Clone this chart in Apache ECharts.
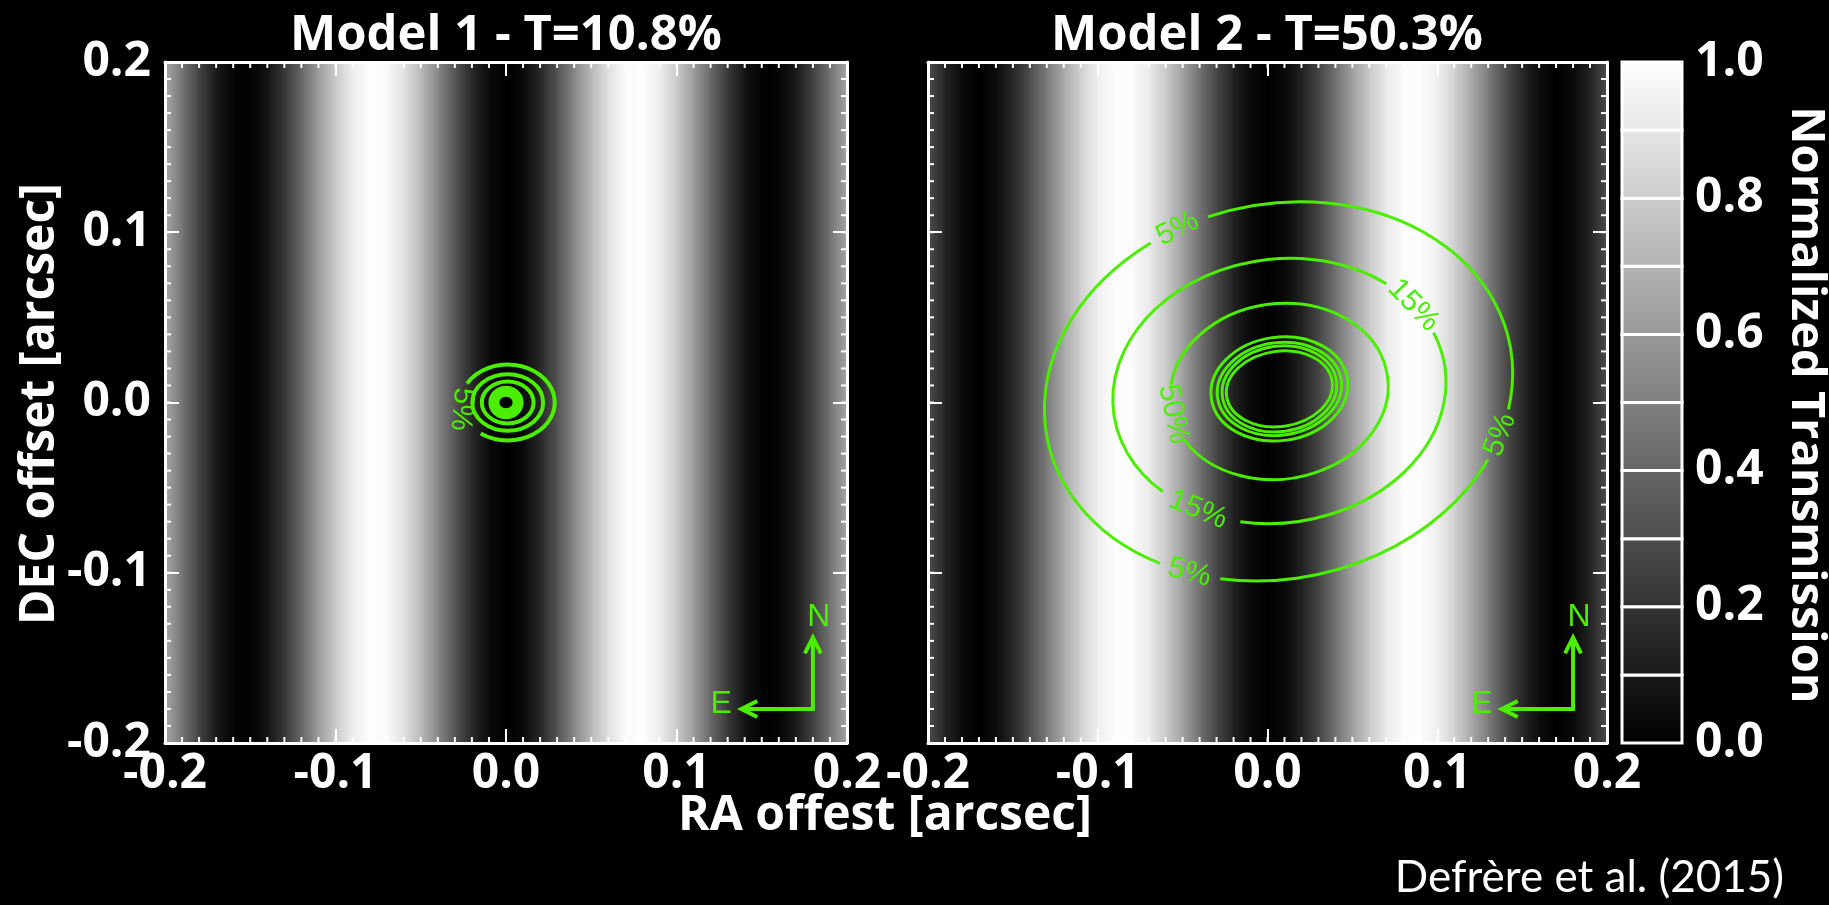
<!DOCTYPE html>
<html>
<head>
<meta charset="utf-8">
<title>Transmission maps</title>
<script src="https://cdn.jsdelivr.net/npm/echarts@6/dist/echarts.min.js"></script>
<style>
  html, body { margin: 0; padding: 0; background: #000; }
  #chart { width: 1829px; height: 905px; }
</style>
</head>
<body>
<div id="chart"></div>
<script>
// ---------- text ----------
const panelTitles = ['Model 1 - T=10.8%', 'Model 2 - T=50.3%'];
const xAxisTitle = 'RA offest [arcsec]';
const yAxisTitle = 'DEC offset [arcsec]';
const colorbarTitle = 'Normalized Transmission';
const credit = 'Defrère et al. (2015)';

// ---------- axes ----------
const offsetRange = [-0.2, 0.2];   // arcsec, both axes of both panels
const offsetStep = 0.1;            // labelled ticks
const offsetMinorStep = 0.01;      // small ticks
const colorbarRange = [0, 1];
const colorbarStep = 0.2;
const colorbarLevels = [0.0, 0.1, 0.2, 0.3, 0.4, 0.5, 0.6, 0.7, 0.8, 0.9, 1.0];

// ---------- fringe pattern (normalized transmission vs RA offset) ----------
const fringeRA = [-0.20, -0.19, -0.18, -0.17, -0.16, -0.15, -0.14, -0.13, -0.12, -0.11,
                  -0.10, -0.09, -0.08, -0.07, -0.06, -0.05, -0.04, -0.03, -0.02, -0.01,
                   0.00,  0.01,  0.02,  0.03,  0.04,  0.05,  0.06,  0.07,  0.08,  0.09,
                   0.10,  0.11,  0.12,  0.13,  0.14,  0.15,  0.16,  0.17,  0.18,  0.19, 0.20];
const fringeModel1 = [0.654, 0.453, 0.258, 0.103, 0.015, 0.007, 0.079, 0.221, 0.409, 0.611,
                      0.796, 0.931, 0.996, 0.980, 0.884, 0.726, 0.531, 0.330, 0.157, 0.041,
                      0.000,
                      0.041, 0.157, 0.330, 0.531, 0.726, 0.884, 0.980, 0.996, 0.931, 0.796,
                      0.611, 0.409, 0.221, 0.079, 0.007, 0.015, 0.103, 0.258, 0.453, 0.654];
const fringeModel2 = [0.300, 0.140, 0.035, 0.001, 0.046, 0.152, 0.304, 0.482, 0.662, 0.820,
                      0.936, 0.994, 0.988, 0.917, 0.791, 0.627, 0.445, 0.271, 0.128, 0.033,
                      0.000,
                      0.033, 0.128, 0.271, 0.445, 0.627, 0.791, 0.917, 0.988, 0.994, 0.936,
                      0.820, 0.662, 0.482, 0.304, 0.152, 0.046, 0.001, 0.035, 0.140, 0.300];

// ---------- contours as elliptical arcs ----------
// [centreRA, centreDEC, semiAxisRA, semiAxisDEC, tiltDeg, arcFromDeg, arcToDeg]
const model1Core  = [[0.000, 0.000, 0.0071, 0.0066, 0, 0, 360]];
const model1Rings = [[0.001, 0.000, 0.0152, 0.0123, 0, 0, 360],
                     [0.001, 0.000, 0.0208, 0.0166, 0, 0, 360],
                     [0.001, 0.000, 0.0276, 0.0223, 0, 235, 510]];          // 5%
const model2Core  = [[0.007, 0.008, 0.0405, 0.0304, 8, 0, 360],
                     [0.007, 0.008, 0.0368, 0.0272, 8, 0, 360],
                     [0.007, 0.008, 0.0339, 0.0251, 8, 0, 360],
                     [0.007, 0.008, 0.0314, 0.0221, 8, 0, 360]];
const model2Contour50 = [[0.0068, 0.0065, 0.0645, 0.0515, 8, 202.7, 525.8]];
const model2Contour15 = [[0.0070, 0.0068, 0.0985, 0.0775, 8, 43.8, 219.2],
                         [0.0070, 0.0068, 0.0985, 0.0775, 8, 250.1, 375.9]];
const model2Contour5  = [[0.0065, 0.0065, 0.1390, 0.1100, 12, 113.5, 230.0],
                         [0.0065, 0.0065, 0.1390, 0.1100, 12, 246.0, 324.0],
                         [0.0065, 0.0065, 0.1390, 0.1100, 12, 339.6, 458.0]];

// ---------- contour labels: [RA, DEC, text, angleDeg] ----------
const model1Labels = [[-0.026, -0.004, '5%', -95]];
const model2Labels = [[-0.053, 0.102, '5%', 27], [0.137, -0.019, '5%', 69], [-0.046, -0.100, '5%', -15],
                      [0.086, 0.057, '15%', -46], [-0.041, -0.063, '15%', -22],
                      [-0.0555, -0.0068, '50%', -78]];

// ---------- compass (corner and arm length, arcsec) ----------
const compassCorner = [0.180, -0.180];
const compassArm = 0.042;

// ================= drawing =================
const GREEN = '#4cee00';
const WHITE = '#ffffff';
const FONT = '"Open Sans", "Liberation Sans", Arial, sans-serif';
const SMALL_FONT = '"Liberation Sans", Arial, sans-serif';

function grayOf(v) {
  const g = Math.round(255 * Math.max(0, Math.min(1, v)));
  return 'rgb(' + g + ',' + g + ',' + g + ')';
}
function fmt(v) { return (Math.abs(v) < 1e-9 ? 0 : v).toFixed(1); }

function frameAxis(gridIndex, position, showLabels) {
  const horizontal = position === 'bottom' || position === 'top';
  return {
    type: 'value', gridIndex: gridIndex, position: position,
    min: offsetRange[0], max: offsetRange[1], interval: offsetStep, z: 10,
    axisLine: { show: true, onZero: false, lineStyle: { color: WHITE, width: 3 } },
    axisTick: { show: true, inside: true, length: 14, lineStyle: { color: WHITE, width: 2 } },
    splitLine: { show: false },
    axisLabel: {
      show: showLabels, color: WHITE, fontFamily: FONT, fontWeight: 'bold', fontSize: 48,
      margin: horizontal ? 7 : 14, showMinLabel: true, showMaxLabel: true, formatter: fmt
    }
  };
}

// small ticks on all four sides of a panel frame
function minorTickSeries(xi, yi) {
  const n = Math.round((offsetRange[1] - offsetRange[0]) / offsetMinorStep);
  const values = [];
  for (let i = 1; i < n; i++) values.push([offsetRange[0] + i * offsetMinorStep]);
  const len = 6;
  return {
    type: 'custom', xAxisIndex: xi, yAxisIndex: yi, z: 8, silent: true,
    data: values,
    encode: { x: 0 },
    renderItem: function (params, api) {
      const v = api.value(0);
      const b = api.coord([v, offsetRange[0]]);
      const t = api.coord([v, offsetRange[1]]);
      const l = api.coord([offsetRange[0], v]);
      const r = api.coord([offsetRange[1], v]);
      const st = { stroke: WHITE, lineWidth: 2 };
      return {
        type: 'group',
        children: [
          { type: 'line', shape: { x1: b[0], y1: b[1], x2: b[0], y2: b[1] - len }, style: st },
          { type: 'line', shape: { x1: t[0], y1: t[1], x2: t[0], y2: t[1] + len }, style: st },
          { type: 'line', shape: { x1: l[0], y1: l[1], x2: l[0] + len, y2: l[1] }, style: st },
          { type: 'line', shape: { x1: r[0], y1: r[1], x2: r[0] - len, y2: r[1] }, style: st }
        ]
      };
    }
  };
}

function fringeSeries(xi, yi, values) {
  const data = fringeRA.slice(0, -1).map((x, i) => [x, fringeRA[i + 1], values[i], values[i + 1]]);
  return {
    type: 'custom', xAxisIndex: xi, yAxisIndex: yi, z: 1, silent: true, clip: true,
    data: data,
    renderItem: function (params, api) {
      const a = api.coord([api.value(0), offsetRange[1]]);
      const b = api.coord([api.value(1), offsetRange[0]]);
      return {
        type: 'rect',
        shape: { x: a[0], y: a[1], width: b[0] - a[0] + 0.8, height: b[1] - a[1] },
        style: {
          fill: new echarts.graphic.LinearGradient(0, 0, 1, 0, [
            { offset: 0, color: grayOf(api.value(2)) },
            { offset: 1, color: grayOf(api.value(3)) }
          ])
        }
      };
    }
  };
}

// SVG path of a tilted elliptical arc in pixel space, drawn counter-clockwise from a0 to a1
function ellipseArcPath(c, rxp, ryp, tilt, a0, a1) {
  const th = tilt * Math.PI / 180;
  const pt = function (deg) {
    const t = deg * Math.PI / 180;
    const tx = rxp * Math.cos(t), ty = ryp * Math.sin(t);
    const X = tx * Math.cos(th) - ty * Math.sin(th);
    const Y = tx * Math.sin(th) + ty * Math.cos(th);
    return [c[0] + X, c[1] - Y];
  };
  const n = Math.max(1, Math.ceil((a1 - a0) / 90));
  let p = pt(a0);
  let d = 'M' + p[0].toFixed(2) + ' ' + p[1].toFixed(2);
  for (let k = 1; k <= n; k++) {
    p = pt(a0 + (a1 - a0) * k / n);
    d += ' A' + rxp.toFixed(2) + ' ' + ryp.toFixed(2) + ' ' + (-tilt) + ' 0 0 ' + p[0].toFixed(2) + ' ' + p[1].toFixed(2);
  }
  return d;
}

function arcSeries(xi, yi, arcs, lineWidth) {
  return {
    type: 'custom', xAxisIndex: xi, yAxisIndex: yi, z: 4, silent: true, clip: true,
    data: arcs,
    renderItem: function (params, api) {
      const c = api.coord([api.value(0), api.value(1)]);
      const s = api.size([api.value(2), api.value(3)]);
      return {
        type: 'path',
        shape: { pathData: ellipseArcPath(c, s[0], s[1], api.value(4), api.value(5), api.value(6)) },
        style: { fill: 'none', stroke: GREEN, lineWidth: lineWidth, lineCap: 'butt' }
      };
    }
  };
}

function labelSeries(xi, yi, labels) {
  return {
    type: 'custom', xAxisIndex: xi, yAxisIndex: yi, z: 5, silent: true,
    data: labels.map(l => [l[0], l[1], l[3]]),
    renderItem: function (params, api) {
      const p = api.coord([api.value(0), api.value(1)]);
      return {
        type: 'text', x: p[0], y: p[1], rotation: api.value(2) * Math.PI / 180,
        style: {
          text: labels[params.dataIndex][2], fill: GREEN,
          font: '30px ' + SMALL_FONT, align: 'center', verticalAlign: 'middle'
        }
      };
    }
  };
}

function compassSeries(xi, yi) {
  return {
    type: 'custom', xAxisIndex: xi, yAxisIndex: yi, z: 5, silent: true,
    data: [[compassCorner[0], compassCorner[1], compassArm]],
    renderItem: function (params, api) {
      const x = api.value(0), y = api.value(1), arm = api.value(2);
      const c = api.coord([x, y]);
      const n = api.coord([x, y + arm]);
      const e = api.coord([x - arm, y]);
      const line = { stroke: GREEN, lineWidth: 4, fill: 'none', lineJoin: 'miter' };
      const font = '32px ' + SMALL_FONT;
      return {
        type: 'group',
        children: [
          { type: 'polyline', shape: { points: [n, c, e] }, style: line },
          { type: 'polyline', shape: { points: [[n[0] - 8, n[1] + 16], n, [n[0] + 8, n[1] + 16]] }, style: line },
          { type: 'polyline', shape: { points: [[e[0] + 16, e[1] - 8], e, [e[0] + 16, e[1] + 8]] }, style: line },
          { type: 'text', x: n[0] + 6, y: n[1] - 20,
            style: { text: 'N', fill: GREEN, font: font, align: 'center', verticalAlign: 'middle' } },
          { type: 'text', x: e[0] - 20, y: e[1] - 5,
            style: { text: 'E', fill: GREEN, font: font, align: 'center', verticalAlign: 'middle' } }
        ]
      };
    }
  };
}

const colorbarSeries = {
  type: 'custom', xAxisIndex: 4, yAxisIndex: 4, z: 3, silent: true,
  data: colorbarLevels.slice(0, -1).map((v, i) => [v, colorbarLevels[i + 1]]),
  renderItem: function (params, api) {
    const v0 = api.value(0), v1 = api.value(1);
    const a = api.coord([colorbarRange[0], v1]);
    const b = api.coord([colorbarRange[1], v0]);
    return {
      type: 'rect',
      shape: { x: a[0], y: a[1], width: b[0] - a[0], height: b[1] - a[1] },
      style: {
        fill: new echarts.graphic.LinearGradient(0, 0, 0, 1, [
          { offset: 0, color: grayOf(v1) }, { offset: 1, color: grayOf(v0) }
        ]),
        stroke: WHITE, lineWidth: 3
      }
    };
  }
};

const chart = echarts.init(document.getElementById('chart'), null, { renderer: 'canvas' });

const gridBase = { containLabel: false, outerBoundsMode: 'none' };
const option = {
  backgroundColor: '#000',
  animation: false,
  grid: [
    Object.assign({ left: 165, top: 62, width: 682, height: 681 }, gridBase),
    Object.assign({ left: 928, top: 62, width: 679, height: 681 }, gridBase),
    Object.assign({ left: 1622, top: 62, width: 60, height: 681 }, gridBase)
  ],
  xAxis: [
    frameAxis(0, 'bottom', true),                 // 0
    frameAxis(0, 'top', false),                   // 1
    frameAxis(1, 'bottom', true),                 // 2
    frameAxis(1, 'top', false),                   // 3
    { type: 'value', gridIndex: 2, min: colorbarRange[0], max: colorbarRange[1], show: false } // 4
  ],
  yAxis: [
    frameAxis(0, 'left', true),
    frameAxis(0, 'right', false),
    frameAxis(1, 'left', false),
    frameAxis(1, 'right', false),
    {
      type: 'value', gridIndex: 2, position: 'right',
      min: colorbarRange[0], max: colorbarRange[1], interval: colorbarStep,
      axisLine: { show: false }, axisTick: { show: false }, splitLine: { show: false },
      axisLabel: {
        color: WHITE, fontFamily: FONT, fontWeight: 'bold', fontSize: 48, margin: 13,
        showMinLabel: true, showMaxLabel: true, formatter: fmt
      }
    }
  ],
  series: [
    fringeSeries(0, 0, fringeModel1),
    fringeSeries(2, 2, fringeModel2),
    minorTickSeries(0, 0),
    minorTickSeries(2, 2),
    colorbarSeries,
    arcSeries(0, 0, model1Core, 11),
    arcSeries(0, 0, model1Rings, 4),
    arcSeries(2, 2, model2Core, 3),
    arcSeries(2, 2, model2Contour50, 3),
    arcSeries(2, 2, model2Contour15, 3),
    arcSeries(2, 2, model2Contour5, 3),
    labelSeries(0, 0, model1Labels),
    labelSeries(2, 2, model2Labels),
    compassSeries(0, 0),
    compassSeries(2, 2)
  ],
  graphic: [
    { type: 'text', x: 506, y: 36, style: { text: panelTitles[0], fill: WHITE, font: 'bold 49px ' + FONT, align: 'center', verticalAlign: 'middle' } },
    { type: 'text', x: 1267, y: 36, style: { text: panelTitles[1], fill: WHITE, font: 'bold 49px ' + FONT, align: 'center', verticalAlign: 'middle' } },
    { type: 'text', x: 885, y: 816, style: { text: xAxisTitle, fill: WHITE, font: 'bold 48px ' + FONT, align: 'center', verticalAlign: 'middle' } },
    { type: 'text', x: 40, y: 404, rotation: Math.PI / 2, style: { text: yAxisTitle, fill: WHITE, font: 'bold 48px ' + FONT, align: 'center', verticalAlign: 'middle' } },
    { type: 'text', x: 1805, y: 405, rotation: -Math.PI / 2, style: { text: colorbarTitle, fill: WHITE, font: 'bold 47px ' + FONT, align: 'center', verticalAlign: 'middle' } },
    { type: 'text', x: 1784, y: 878, style: { text: credit, fill: WHITE, font: '44px Lato, "Open Sans", sans-serif', align: 'right', verticalAlign: 'middle' } }
  ]
};

chart.setOption(option);
</script>
</body>
</html>
